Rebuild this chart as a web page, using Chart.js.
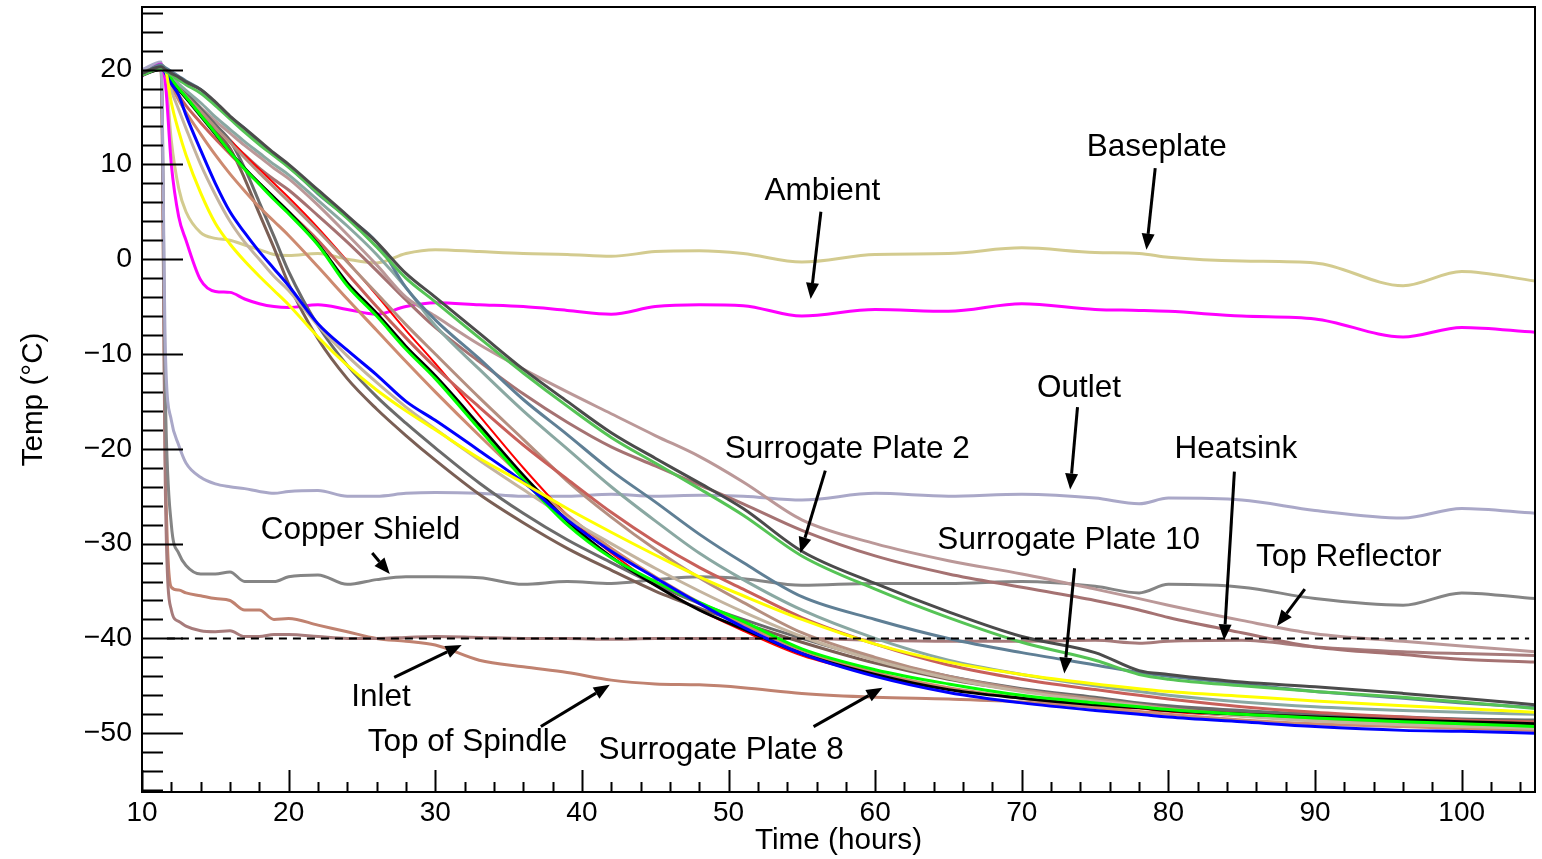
<!DOCTYPE html>
<html>
<head>
<meta charset="utf-8">
<script src="https://cdn.jsdelivr.net/npm/chart.js@4.4.1/dist/chart.umd.min.js"></script>
<style>
  body { margin: 0; background: #fff; }
  #wrap { width: 1542px; height: 859px; position: relative; }
</style>
</head>
<body>
<div id="wrap"><canvas id="tempChart"></canvas></div>
<script>
// Tempos de amostragem (horas)
const hours = [10, 11.3, 11.6, 12, 12.5, 13, 14, 15, 16, 17, 18, 19, 20, 22, 24, 26, 28, 30, 33, 36, 39, 42, 45, 48, 51, 55, 60, 65, 70, 75, 78, 80, 85, 90, 96, 100, 105];

// Sensores "planos"
const baseplate = [19.5, 20.5, 19.5, 12.5, 7.5, 5, 2.8, 2.2, 2, 1.5, 1, 0.5, 0.4, 0.6, 0, -0.4, 0.6, 1, 0.8, 0.6, 0.5, 0.3, 0.8, 0.9, 0.6, -0.3, 0.5, 0.6, 1.2, 0.7, 0.6, 0.2, -0.2, -0.4, -2.8, -1.3, -2.3];
const ambient = [19.3, 20.6, 18.5, 10, 4.5, 2, -2.2, -3.4, -3.5, -4.2, -4.7, -5, -5.1, -4.8, -5.3, -5.8, -5, -4.6, -4.8, -5, -5.4, -5.8, -5, -4.8, -4.9, -6, -5.3, -5.5, -4.7, -5.3, -5.4, -5.5, -6, -6.3, -8.2, -7.2, -7.7];
const outlet = [20, 20.8, -10, -17, -19.6, -21.5, -23, -23.7, -24, -24.2, -24.5, -24.7, -24.5, -24.4, -25, -25, -24.7, -24.6, -24.7, -25, -25, -24.8, -25, -24.9, -25, -25.4, -24.7, -25, -24.8, -25.2, -25.8, -25.2, -25.4, -26.5, -27.3, -26.3, -26.8];
const copperShield = [19.8, 20.3, -15, -28, -31, -32.3, -33.2, -33.2, -33, -34, -34, -34, -33.5, -33.3, -34.3, -33.8, -33.5, -33.5, -33.6, -34.3, -34, -34.2, -33.8, -33.5, -33.7, -34.4, -34.2, -34.2, -34, -34.5, -35.2, -34.3, -34.6, -35.8, -36.5, -35.2, -35.8];
const inlet = [19.5, 20, -25, -37, -38.2, -38.7, -39.2, -39.3, -39.2, -39.8, -39.8, -39.6, -39.6, -39.8, -40, -40, -39.9, -39.8, -39.9, -40, -40, -40.1, -40, -40, -40, -40, -40.2, -40.3, -40.3, -40.2, -40.5, -40.3, -40.2, -40.9, -41.4, -41.6, -41.8];
const topOfSpindle = [19.5, 20, -22, -34.6, -34.9, -35.2, -35.5, -35.8, -36, -37, -37, -38, -37.9, -38.6, -39.3, -40, -40.3, -40.7, -42.3, -43, -43.6, -44.4, -44.8, -44.9, -45.2, -45.8, -46.2, -46.4, -46.7, -47.3, -47.9, -47.6, -48.1, -48.5, -49, -49, -49];

// Sensores que esfriam devagar
const plate2 = [19.6, 20.3, 20, 19.6, 19.2, 18.7, 17.9, 16.6, 15.1, 13.8, 12.5, 11.2, 10, 7.3, 4.6, 1.8, -1.5, -4, -7.8, -11.6, -15, -18.3, -21, -23.6, -26.3, -30.8, -34.2, -37.2, -39.8, -41.5, -43.4, -43.8, -44.6, -45.1, -45.8, -46.3, -47];
const plate2b = [19.4, 20.1, 19.8, 19.4, 18.9, 18.4, 17.5, 16.2, 14.8, 13.4, 12.1, 10.9, 9.7, 7, 4.3, 1.3, -2, -4.5, -8.3, -12, -15.5, -18.8, -21.5, -24.2, -27, -31.3, -34.8, -37.8, -40.4, -42.3, -43.8, -44.3, -45, -45.6, -46.2, -46.7, -47.4];
const plate10 = [19.5, 20.5, 20.2, 19.8, 19.3, 18.8, 17.9, 16.5, 15, 13.8, 12.3, 11, 9.8, 6.9, 4.4, 1.8, -3, -6.4, -10.5, -14.8, -18.5, -22.3, -25.6, -29, -32, -35.6, -38, -40, -41.5, -42.8, -43.6, -44, -44.8, -45.6, -46.3, -46.8, -47.3];
const plateSage = [19.5, 20.3, 20, 19.3, 18.5, 17.8, 16.5, 15, 13.7, 12.4, 11.2, 10, 8.9, 6.2, 3.5, 0.5, -3, -7, -11.6, -16, -20, -24, -27.6, -31, -33.8, -37, -40, -42.3, -43.8, -45, -45.6, -46, -46.7, -47.2, -47.6, -47.8, -48];
const topReflector = [19.6, 20.4, 20, 19.2, 18.3, 17.5, 16, 14.6, 13.3, 12, 10.8, 9.6, 8.5, 5.7, 2.6, -0.6, -4, -6, -9, -11.6, -14, -16.3, -18.6, -20.8, -23.5, -27.5, -30, -31.8, -33.2, -34.8, -35.8, -36.5, -38.1, -39.5, -40.3, -40.8, -41.4];
const heatsink = [19.5, 20.2, 19.8, 19, 18, 17, 15.5, 14, 12.5, 11, 9.6, 8.4, 7.3, 4.6, 1.8, -1.2, -4.3, -7.2, -10.8, -14.2, -17.2, -19.8, -21.8, -23.8, -25.8, -28.6, -31.3, -33.2, -34.6, -36, -37, -37.8, -39.4, -40.9, -41.7, -42.2, -42.5];

// Sensores que esfriam rápido
const plateGreen = [19.5, 20.2, 20, 19, 18, 17.1, 15.2, 13.3, 11.3, 9.5, 7.9, 6.3, 4.8, 1.5, -2.8, -6, -9.5, -12.6, -17.9, -23.2, -28, -31.5, -34, -36.2, -38.2, -41.1, -43.3, -44.8, -46, -46.8, -47.2, -47.5, -48, -48.4, -48.8, -49, -49.3];
const plateBlack = [19.4, 20, 19.8, 18.9, 17.9, 17, 15.1, 13.2, 11.3, 9.6, 8, 6.5, 5, 1.6, -2.5, -5.7, -9.2, -12.3, -17.5, -22.8, -27.6, -31.4, -34.4, -37, -39, -41.6, -43.8, -45.4, -46.3, -47, -47.3, -47.6, -48, -48.3, -48.6, -48.8, -49];
const plateRed = [19.5, 20.3, 20, 19.2, 18.3, 17.4, 15.8, 14.2, 12.6, 11, 9.5, 8, 6.5, 3.3, -0.2, -3.8, -7.5, -11, -16.5, -22, -27, -31, -34.3, -37, -39.2, -41.8, -43.8, -45.3, -46.3, -47.1, -47.4, -47.7, -48.2, -48.6, -49, -49.2, -49.5];
const plateIndianRed = [19.5, 20.3, 19.8, 18.6, 17.3, 16.2, 14.4, 12.7, 11.1, 9.5, 8, 6.5, 5, 2, -1.5, -5, -8.3, -11.4, -15.6, -19.6, -23.2, -26.7, -29.8, -32.5, -34.8, -37.8, -40.6, -42.8, -44.3, -45.4, -46, -46.4, -47.2, -47.8, -48.3, -48.6, -48.8];
const plateSalmon = [19.5, 20.2, 19.6, 18.2, 16.8, 15.5, 13.2, 11, 9, 7.2, 5.5, 4, 2.5, -0.8, -4.2, -7.5, -10.8, -14, -18.6, -23, -27, -30.5, -33.5, -36.2, -38.5, -41.3, -43.6, -45.2, -46.3, -47.2, -47.7, -48, -48.6, -49, -49.3, -49.5, -49.7];
const plate8 = [19.5, 20.3, 19.6, 18.5, 17.3, 15.2, 11.5, 8, 5, 2.8, 0.8, -1, -2.8, -6.8, -9.6, -12.2, -15, -17, -20.2, -23.5, -27.5, -30.8, -33.6, -36.3, -38.8, -41.6, -44, -45.7, -46.8, -47.6, -48, -48.3, -48.8, -49.3, -49.7, -49.8, -50];
const plateYellow = [19.5, 20.4, 20, 16.5, 13.5, 11, 7, 3.8, 1.6, -0.2, -1.8, -3.3, -4.8, -8.2, -11.2, -13.8, -16, -18, -21, -23.6, -26.3, -28.8, -31.2, -33.5, -35.5, -38, -40.6, -42.5, -43.8, -44.8, -45.3, -45.6, -46.1, -46.6, -47.1, -47.4, -47.8];
const plateTan = [19.5, 20.3, 19.8, 17.8, 15.8, 13.8, 10, 6.8, 4, 1.8, 0, -1.8, -3.3, -7, -10.2, -13, -15.6, -17.9, -21.2, -24.3, -27.3, -30, -32.6, -35, -37.2, -39.8, -42.3, -44.2, -45.6, -46.6, -47.1, -47.5, -48.2, -48.7, -49.1, -49.3, -49.5];
const plateBrown = [19.6, 20.3, 20, 19.1, 18.2, 17.3, 15.4, 13.5, 11.7, 8.5, 4.8, 1.2, -2.6, -8.4, -12.6, -15.8, -18.6, -21.2, -24.8, -27.8, -30.5, -32.8, -35, -36.8, -38.4, -40.4, -42.6, -44.3, -45.5, -46.4, -47, -47.3, -47.8, -48.2, -48.5, -48.7, -48.9];
const plateGray = [19.6, 20.2, 19.9, 19.2, 18.4, 17.6, 15.9, 14.2, 12.5, 9.6, 6, 2.4, -1.3, -7, -11.2, -14.5, -17.3, -19.9, -23.6, -26.8, -29.6, -32, -34.3, -36.3, -38, -40, -42.2, -44, -45.3, -46.2, -46.8, -47.1, -47.6, -48, -48.3, -48.5, -48.6];
const plateLightBrown = [19.5, 20.2, 19.9, 19.1, 18.1, 17.2, 15.6, 13.9, 12.3, 10.7, 9.1, 7.6, 6.1, 3, -0.3, -3.6, -6.9, -10, -14.6, -19, -23.4, -27.2, -30.6, -33.6, -36.2, -39.4, -42, -44, -45.4, -46.4, -47, -47.4, -48.1, -48.6, -49, -49.3, -49.6];

// Marcas dos eixos
const xTickValues = [10, 20, 30, 40, 50, 60, 70, 80, 90, 100];
const yTickValues = [-50, -40, -30, -20, -10, 0, 10, 20];

// Anotações (texto e seta, em coordenadas dos dados)
const notes = [
    { text: 'Baseplate', at: [79.2, 11.8], from: [79.1, 9.6], to: [78.5, 1.0] },
    { text: 'Ambient', at: [56.4, 7.2], from: [56.3, 5.0], to: [55.6, -4.2] },
    { text: 'Outlet', at: [73.9, -13.6], from: [73.8, -15.6], to: [73.3, -24.3] },
    { text: 'Surrogate Plate 2', at: [58.1, -20.1], from: [56.6, -22.3], to: [54.9, -31.0] },
    { text: 'Heatsink', at: [84.6, -20.1], from: [84.5, -22.4], to: [83.8, -40.2] },
    { text: 'Surrogate Plate 10', at: [73.2, -29.7], from: [73.6, -32.6], to: [72.9, -43.7] },
    { text: 'Top Reflector', at: [92.3, -31.4], from: [89.3, -34.8], to: [87.4, -38.7] },
    { text: 'Copper Shield', at: [24.9, -28.6], from: [25.7, -31.0], to: [26.9, -33.2] },
    { text: 'Inlet', at: [26.3, -46.2], from: [27.2, -44.1], to: [31.8, -40.7] },
    { text: 'Top of Spindle', at: [32.2, -51.0], from: [37.2, -49.3], to: [41.9, -44.9] },
    { text: 'Surrogate Plate 8', at: [49.5, -51.8], from: [55.8, -49.3], to: [60.5, -45.2] }
];

// Primeiro da lista fica por cima
const series = [
    [plate2, '#4b4b4b', 3], [plate2b, '#55c455', 3], [plate10, '#5f7f95', 3], [plateYellow, '#ffff00', 3],
    [plate8, '#0000ff', 3], [plateGreen, '#00ff00', 3], [plateBlack, '#000000', 3],
    [plateIndianRed, '#c8605a', 3], [plateSage, '#8aa8a2', 3], [plateTan, '#c4b49f', 3], [plateSalmon, '#cd8a70', 3],
    [plateLightBrown, '#b58f80', 3], [plateGray, '#6b6b6b', 3], [plateBrown, '#7a5f55', 3], [plateRed, '#ff0000', 2],
    [topReflector, '#bb9898', 3], [heatsink, '#a57272', 3],
    [ambient, '#ff00ff', 3], [baseplate, '#d3cb8f', 3], [outlet, '#aaa8c8', 3],
    [copperShield, '#858585', 3], [inlet, '#a77b7b', 3], [topOfSpindle, '#c08270', 3]
];

const fmt = v => (v < 0 ? '\u2212' + Math.abs(v) : String(v));
const FONT = '"Liberation Sans", Arial, sans-serif';

// Zera o espaço extra que o Chart.js reserva para os rótulos das pontas
const noEdgePadding = s => {
    s.paddingTop = 0; s.paddingBottom = 0; s.paddingLeft = 0; s.paddingRight = 0;
};

// Moldura, marcas internas, linha tracejada e anotações
const framePlugin = {
    id: 'framePlugin',
    afterDatasetsDraw(chart) {
        const { ctx, chartArea: a, scales: { x, y } } = chart;
        ctx.save();
        ctx.strokeStyle = '#000';
        ctx.fillStyle = '#000';

        ctx.lineWidth = 2;
        ctx.setLineDash([8, 6]);
        ctx.beginPath();
        ctx.moveTo(x.getPixelForValue(11.7), y.getPixelForValue(-40));
        ctx.lineTo(x.getPixelForValue(104.6), y.getPixelForValue(-40));
        ctx.stroke();
        ctx.setLineDash([]);

        ctx.lineWidth = 2;
        ctx.beginPath();
        for (let v = -56; v <= 26; v += 2) {
            const py = Math.round(y.getPixelForValue(v)) + 0.5;
            ctx.moveTo(a.left, py);
            ctx.lineTo(a.left + (v % 10 === 0 ? 41 : 21), py);
        }
        for (let v = 10; v <= 105; v += 2) {
            const px = Math.round(x.getPixelForValue(v)) + 0.5;
            ctx.moveTo(px, a.bottom);
            ctx.lineTo(px, a.bottom - (v % 10 === 0 ? 22 : 10));
        }
        ctx.stroke();
        ctx.strokeRect(a.left, a.top, a.right - a.left, a.bottom - a.top);

        ctx.font = '31.5px ' + FONT;
        ctx.textAlign = 'center';
        ctx.textBaseline = 'middle';
        notes.forEach(n => {
            ctx.fillText(n.text, x.getPixelForValue(n.at[0]), y.getPixelForValue(n.at[1]));
            const x1 = x.getPixelForValue(n.from[0]), y1 = y.getPixelForValue(n.from[1]);
            const x2 = x.getPixelForValue(n.to[0]), y2 = y.getPixelForValue(n.to[1]);
            const ang = Math.atan2(y2 - y1, x2 - x1);
            const hl = 16, hw = 6.5;
            ctx.lineWidth = 3;
            ctx.beginPath();
            ctx.moveTo(x1, y1);
            ctx.lineTo(x2 - hl * Math.cos(ang), y2 - hl * Math.sin(ang));
            ctx.stroke();
            ctx.beginPath();
            ctx.moveTo(x2, y2);
            ctx.lineTo(x2 - hl * Math.cos(ang) + hw * Math.sin(ang), y2 - hl * Math.sin(ang) - hw * Math.cos(ang));
            ctx.lineTo(x2 - hl * Math.cos(ang) - hw * Math.sin(ang), y2 - hl * Math.sin(ang) + hw * Math.cos(ang));
            ctx.closePath();
            ctx.fill();
        });
        ctx.restore();
    }
};

const ctx = document.getElementById('tempChart').getContext('2d');
const tempChart = new Chart(ctx, {
    type: 'line',
    data: {
        datasets: series.map(([vals, color, width]) => ({
            data: hours.map((h, i) => ({ x: h, y: vals[i] })),
            borderColor: color,
            borderWidth: width,
            pointRadius: 0,
            fill: false,
            cubicInterpolationMode: 'monotone'
        }))
    },
    options: {
        responsive: true,
        maintainAspectRatio: false,
        animation: false,
        layout: { padding: { left: 0, right: 7, top: 7, bottom: 0 } },
        plugins: { legend: { display: false }, tooltip: { enabled: false } },
        scales: {
            x: {
                type: 'linear',
                min: 10,
                max: 105,
                grid: { display: false },
                border: { display: false },
                afterBuildTicks: s => { s.ticks = xTickValues.map(v => ({ value: v })); },
                afterFit: s => { s.height = 67; noEdgePadding(s); },
                ticks: { color: '#000', font: { size: 28, family: FONT }, padding: -4, maxRotation: 0, callback: fmt },
                title: { display: true, text: 'Time (hours)', color: '#000', font: { size: 29.7, family: FONT }, padding: { top: 0, bottom: 0 } }
            },
            y: {
                type: 'linear',
                min: -56.2,
                max: 26.6,
                grid: { display: false },
                border: { display: false },
                afterBuildTicks: s => { s.ticks = yTickValues.map(v => ({ value: v })); },
                afterFit: s => { s.width = 142; noEdgePadding(s); },
                ticks: { color: '#000', font: { size: 28.5, family: FONT }, padding: 2, callback: fmt },
                title: { display: true, text: 'Temp (\u00B0C)', color: '#000', font: { size: 29.7, family: FONT }, padding: { top: 16, bottom: 0 } }
            }
        }
    },
    plugins: [framePlugin]
});
</script>
</body>
</html>
